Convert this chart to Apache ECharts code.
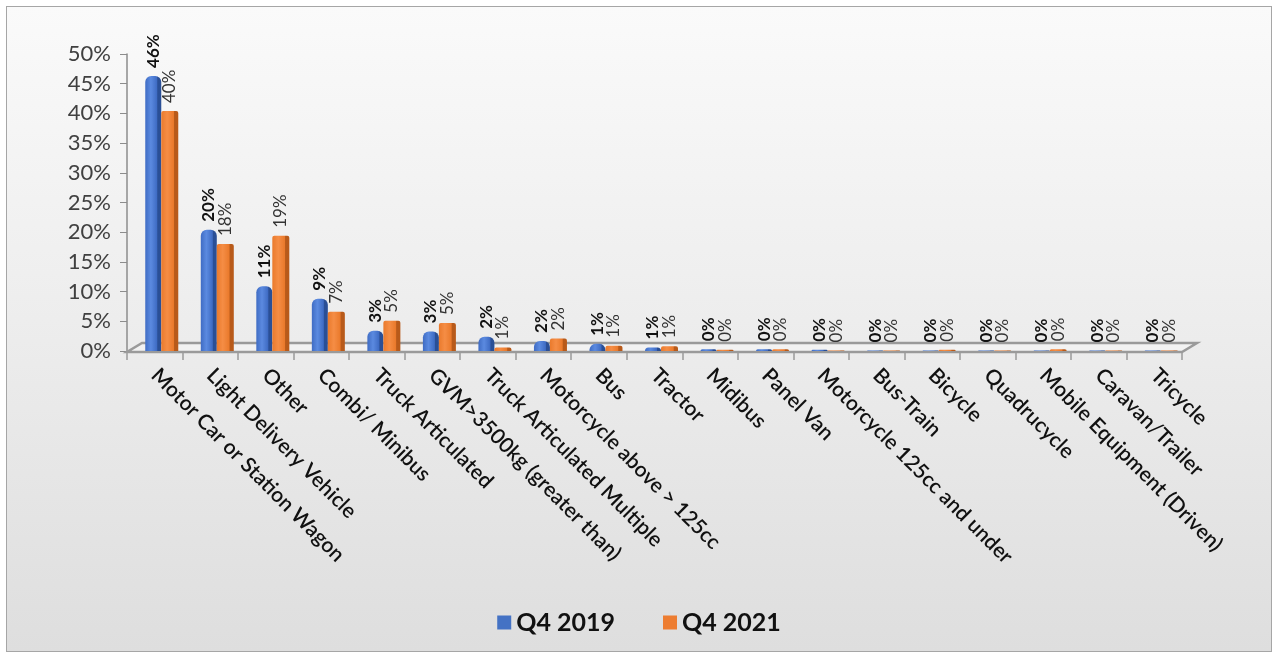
<!DOCTYPE html>
<html>
<head>
<meta charset="utf-8">
<script src="https://cdn.jsdelivr.net/npm/echarts@6/dist/echarts.min.js"></script>
<style>
  html, body { margin: 0; padding: 0; background: #ffffff; }
  #chart {
    position: absolute; left: 6px; top: 6px; width: 1266px; height: 646px;
    border: 1px solid #a6a6a6; box-sizing: border-box;
    background: linear-gradient(to bottom, #fafafa 0%, #eeeeee 45%, #dedede 100%);
  }
</style>
</head>
<body>
<div id="chart"></div>
<script>
const categories = [
  'Motor Car or Station Wagon', 'Light Delivery Vehicle', 'Other', 'Combi/ Minibus',
  'Truck Articulated', 'GVM>3500kg (greater than)', 'Truck Articulated Multiple',
  'Motorcycle above > 125cc', 'Bus', 'Tractor', 'Midibus', 'Panel Van',
  'Motorcycle 125cc and under', 'Bus-Train', 'Bicycle', 'Quadrucycle',
  'Mobile Equipment (Driven)', 'Caravan/Trailer', 'Tricycle'
];
const q42019 = [46.3, 20.4, 10.9, 8.8, 3.4, 3.3, 2.4, 1.7, 1.2, 0.6, 0.3, 0.3, 0.2, 0.1, 0.1, 0.1, 0.1, 0.1, 0.1];
const q42021 = [40.4, 18.0, 19.4, 6.6, 5.1, 4.7, 0.6, 2.1, 0.9, 0.8, 0.2, 0.3, 0.1, 0.1, 0.2, 0.1, 0.3, 0.1, 0.1];
const yTicks = [0, 5, 10, 15, 20, 25, 30, 35, 40, 45, 50];

const chart = echarts.init(document.getElementById('chart'));

// cylinder-like shading across the bar
function shade(light, mid, dark) {
  return {
    type: 'linear', x: 0, y: 0, x2: 1, y2: 0,
    colorStops: [
      { offset: 0, color: mid },
      { offset: 0.35, color: light },
      { offset: 0.72, color: mid },
      { offset: 0.78, color: dark },
      { offset: 1, color: dark }
    ]
  };
}

const fontFamily = 'Lato, "Open Sans", sans-serif';

const labelStyle = (bold) => ({
  show: true,
  position: 'top',
  rotate: 90,
  align: 'left',
  verticalAlign: 'middle',
  distance: 8,
  fontSize: 17,
  fontWeight: bold ? 'bold' : 'normal',
  color: bold ? '#111' : '#333',
  formatter: p => Math.round(p.value) + '%'
});

chart.setOption({
  animation: false,
  textStyle: { fontFamily: fontFamily },
  legend: {
    top: 598,
    left: 'center',
    itemWidth: 14,
    itemHeight: 14,
    itemGap: 48,
    icon: 'rect',
    textStyle: { fontSize: 25, fontWeight: 'bold', color: '#111', fontFamily: fontFamily },
    data: [
      { name: 'Q4 2019', itemStyle: { color: '#4472C4' } },
      { name: 'Q4 2021', itemStyle: { color: '#ED7D31' } }
    ]
  },
  grid: { left: 120, right: 89, top: 47, bottom: 300 },
  xAxis: {
    type: 'category',
    data: categories,
    axisLine: { show: false },
    axisTick: { show: true, length: 9, lineStyle: { color: '#9a9a9a', width: 1.5 } },
    axisLabel: {
      rotate: -45,
      interval: 0,
      margin: 21,
      fontSize: 21,
      fontWeight: 600,
      color: '#111',
      fontFamily: fontFamily
    }
  },
  yAxis: {
    type: 'value',
    min: yTicks[0],
    max: yTicks[yTicks.length - 1],
    interval: 5,
    axisLine: { show: true, lineStyle: { color: '#8c8c8c', width: 1.5 } },
    axisTick: { show: true, length: 7, lineStyle: { color: '#8c8c8c' } },
    splitLine: { show: false },
    axisLabel: {
      formatter: v => v + '%',
      fontSize: 22,
      color: '#404040',
      margin: 16,
      fontFamily: fontFamily
    }
  },
  series: [
    {
      // 3D floor under the bars
      type: 'custom',
      silent: true,
      z: 1,
      data: [0],
      renderItem: (params, api) => {
        const cs = params.coordSys;
        const y0 = cs.y + cs.height;
        const dx = 15, dy = 9;
        return {
          type: 'polygon',
          shape: {
            points: [
              [cs.x, y0 + 1], [cs.x + cs.width, y0 + 1],
              [cs.x + cs.width + dx, y0 + 1 - dy], [cs.x + dx, y0 + 1 - dy]
            ]
          },
          style: { fill: '#f2f2f2', stroke: '#9a9a9a', lineWidth: 2.5 }
        };
      }
    },
    {
      // invisible spacer to push bars to the right like the 3D original
      name: 'spacer',
      type: 'bar',
      data: categories.map(() => 0),
      barWidth: 14,
      barGap: '0%',
      itemStyle: { color: 'transparent' },
      silent: true
    },
    {
      name: 'Q4 2019',
      type: 'bar',
      data: q42019,
      barWidth: 16,
      barGap: '0%',
      z: 3,
      itemStyle: {
        color: shade('#5b8ae0', '#3f6cc4', '#2a4f96'),
        borderRadius: [6, 6, 0, 0]
      },
      label: labelStyle(true)
    },
    {
      name: 'Q4 2021',
      type: 'bar',
      data: q42021,
      barWidth: 17,
      barGap: '0%',
      z: 3,
      itemStyle: {
        color: shade('#f58d45', '#ea7a2c', '#b85a1a'),
        borderRadius: [2, 2, 0, 0]
      },
      label: labelStyle(false)
    }
  ]
});
</script>
</body>
</html>
